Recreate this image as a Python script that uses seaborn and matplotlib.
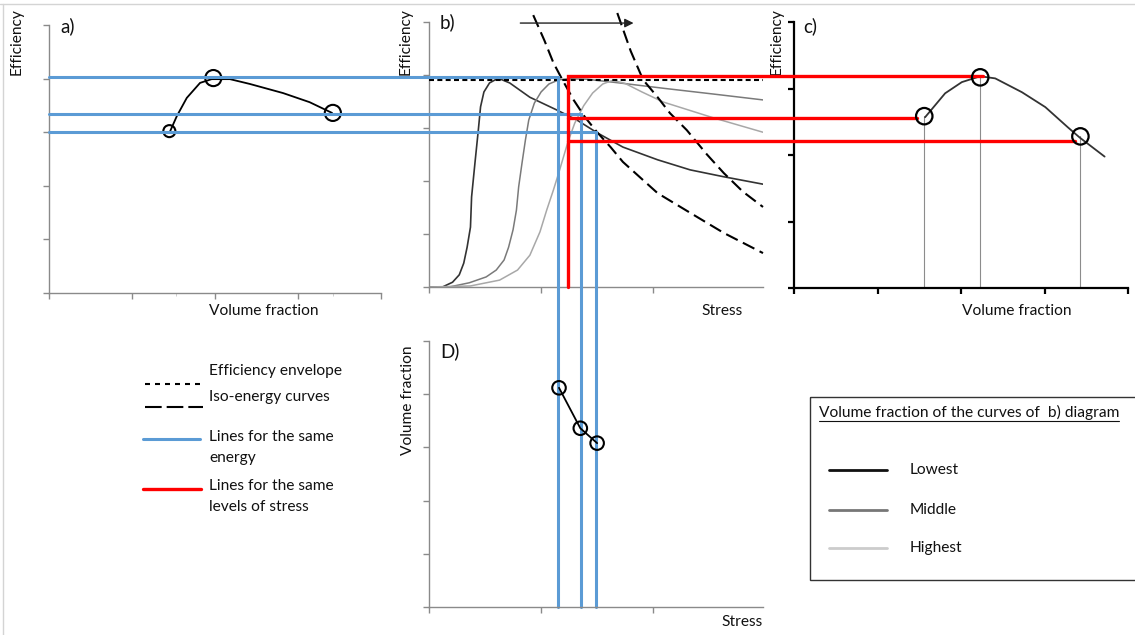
import matplotlib
matplotlib.use("Agg")
import matplotlib.pyplot as plt
import seaborn as sns
from matplotlib.patches import Rectangle

# ---- panel a) efficiency vs volume fraction ----
a_vf = [1.46, 1.54, 1.66, 1.82, 1.96, 2.18, 2.42, 2.82, 3.14, 3.41]
a_eff = [3.02, 3.30, 3.64, 3.92, 3.99, 3.99, 3.90, 3.73, 3.56, 3.36]
a_pts_vf = [1.45, 1.98, 3.42]
a_pts_eff = [3.02, 4.01, 3.36]
a_marks = [1.53, 3.42]

# ---- panel b) efficiency vs stress for three volume fractions ----
low_s = [0, 0.12, 0.21, 0.27, 0.31, 0.34, 0.37, 0.38, 0.41, 0.44, 0.46, 0.49, 0.54, 0.60, 0.64,
         0.72, 0.90, 1.14, 1.32, 1.50, 1.73, 2.04, 2.33, 2.63, 2.98]
low_e = [0, 0.00, 0.09, 0.23, 0.45, 0.75, 1.13, 1.70, 2.34, 2.96, 3.40, 3.68, 3.85, 3.92, 3.92,
         3.85, 3.58, 3.34, 3.15, 2.91, 2.64, 2.40, 2.21, 2.08, 1.94]
mid_s = [0, 0.18, 0.36, 0.51, 0.60, 0.67, 0.71, 0.75, 0.78, 0.80, 0.83, 0.86, 0.89, 0.94, 1.00,
         1.07, 1.16, 1.25, 1.41, 1.70, 2.09, 2.54, 2.98]
mid_e = [0, 0.00, 0.08, 0.19, 0.32, 0.51, 0.75, 1.08, 1.45, 1.89, 2.34, 2.77, 3.15, 3.47, 3.68,
         3.83, 3.91, 3.93, 3.92, 3.85, 3.75, 3.64, 3.53]
high_s = [0, 0.37, 0.63, 0.79, 0.90, 0.99, 1.05, 1.11, 1.16, 1.24, 1.30, 1.38, 1.46, 1.55, 1.64,
          1.75, 1.90, 2.09, 2.54, 2.98]
high_e = [0, 0.02, 0.13, 0.32, 0.60, 1.04, 1.45, 1.83, 2.17, 2.74, 3.09, 3.42, 3.66, 3.83, 3.90,
          3.84, 3.68, 3.49, 3.19, 2.92]
envelope_e = 3.91
iso1_s = [0.93, 1.03, 1.11, 1.19, 1.29, 1.39, 1.50, 1.62, 1.73, 2.04, 2.33, 2.63, 2.98]
iso1_e = [5.13, 4.65, 4.23, 3.91, 3.53, 3.21, 2.92, 2.64, 2.36, 1.77, 1.40, 1.02, 0.64]
iso2_s = [1.68, 1.80, 1.91, 2.04, 2.15, 2.30, 2.48, 2.63, 2.80, 2.98]
iso2_e = [5.17, 4.45, 3.91, 3.58, 3.28, 2.96, 2.50, 2.15, 1.80, 1.51]
arrow_s = [0.79, 1.85]
arrow_e = 4.98

# same-energy (blue) and same-stress (red) construction lines
blue_s = [1.15, 1.36, 1.49]
blue_e = [3.97, 3.26, 2.92]
red_s = 1.24
red_e = [3.98, 3.19, 2.75]
red_end_vf = [2.26, 1.47, 3.37]

# ---- panel c) efficiency vs volume fraction at one stress ----
c_vf = [1.57, 1.81, 2.01, 2.23, 2.41, 2.73, 3.01, 3.28, 3.42, 3.72]
c_eff = [3.21, 3.66, 3.87, 3.98, 3.94, 3.68, 3.40, 3.02, 2.83, 2.47]
c_pts_vf = [1.56, 2.23, 3.43]
c_pts_eff = [3.23, 3.96, 2.85]

# ---- panel D) volume fraction vs stress ----
d_s = [1.16, 1.35, 1.50]
d_vf = [4.12, 3.36, 3.08]

BLUE = "#5b9bd5"
RED = "#ff0000"
AXGREY = "#8a8a8a"
curve_colors = {"Lowest": "#333333", "Middle": "#7a7a7a", "Highest": "#a8a8a8"}

sns.set_style("white")
plt.rcParams["font.family"] = ["Lato", "DejaVu Sans"]

W, H = 1135, 635
fig = plt.figure(figsize=(W / 100, H / 100), dpi=100)
fig.patch.set_facecolor("white")


def px_box(l, t, r, b):
    return [l / W, 1 - b / H, (r - l) / W, (b - t) / H]


def conv(src, dst, x, y):
    # map a data point of one panel into the data space of another
    return dst.transData.inverted().transform(src.transData.transform((x, y)))


def style_axes(ax, xmax, xticks, yticks, color=AXGREY, lw=1.0):
    ax.set_facecolor("none")
    ax.set_xlim(0, xmax)
    ax.set_ylim(0, 5)
    ax.set_xticks(xticks)
    ax.set_yticks(yticks)
    sns.despine(ax=ax)
    for side in ("left", "bottom"):
        ax.spines[side].set_color(color)
        ax.spines[side].set_linewidth(lw)
    ax.tick_params(bottom=True, left=True, direction="out", length=4, width=lw, color=color,
                   labelbottom=False, labelleft=False)
    ax.grid(False)


canvas = fig.add_axes([0, 0, 1, 1])
canvas.set_xlim(0, W)
canvas.set_ylim(H, 0)
canvas.axis("off")

ax_a = fig.add_axes(px_box(49, 25, 381, 293))
ax_b = fig.add_axes(px_box(429, 22, 763, 287))
ax_d = fig.add_axes(px_box(429, 341, 763, 607))
ax_c = fig.add_axes(px_box(794, 22, 1128, 288))

style_axes(ax_a, 4, [0, 1, 2, 3, 4], [0, 1, 2, 3, 4, 5])
style_axes(ax_b, 2.98, [0, 1, 2], [0, 1, 2, 3, 4, 5])
style_axes(ax_d, 2.98, [0, 1, 2], [0, 1, 2, 3, 4, 5])
style_axes(ax_c, 4, [0, 1, 2, 3, 4], [0, 1.25, 2.5, 3.75, 5], color="black", lw=1.6)
ax_a.set_xticks(a_marks, minor=True)
ax_a.tick_params(which="minor", bottom=True, direction="out", length=2.5, color="#c8c8c8")

# a)
sns.lineplot(x=a_vf, y=a_eff, ax=ax_a, color="black", lw=1.3, sort=False, estimator=None)
sns.scatterplot(x=a_pts_vf, y=a_pts_eff, ax=ax_a, s=[75, 135, 135], color="black",
                facecolor="none", edgecolor="black", linewidth=1.5, zorder=5, clip_on=False)

# b) curves
sns.lineplot(x=low_s, y=low_e, ax=ax_b, color=curve_colors["Lowest"], lw=1.2, sort=False, estimator=None)
sns.lineplot(x=mid_s, y=mid_e, ax=ax_b, color=curve_colors["Middle"], lw=1.1, sort=False, estimator=None)
sns.lineplot(x=high_s, y=high_e, ax=ax_b, color=curve_colors["Highest"], lw=1.1, sort=False, estimator=None)
ax_b.plot([0, 2.98], [envelope_e, envelope_e], color="black", lw=1.5, ls=(0, (2.4, 1.6)), zorder=3)
for s, e in ((iso1_s, iso1_e), (iso2_s, iso2_e)):
    ax_b.plot(s, e, color="black", lw=1.5, ls=(0, (6.2, 2.8)), clip_on=False, zorder=3)
ax_b.annotate("", xy=(arrow_s[1], arrow_e), xytext=(arrow_s[0], arrow_e),
              arrowprops=dict(arrowstyle="-|>", color="#222222", lw=1.0, mutation_scale=13),
              annotation_clip=False)

# blue lines: from a) y-axis across to b), then down to D) x-axis
x_start = conv(ax_a, ax_b, 0, 0)[0]
y_bottom = conv(ax_d, ax_b, 0, 0)[1]
for s, e in zip(blue_s, blue_e):
    ax_b.plot([x_start, s, s], [e, e, y_bottom], color=BLUE, lw=2.2, clip_on=False,
              zorder=6, solid_joinstyle="miter")

# D)
sns.lineplot(x=d_s, y=d_vf, ax=ax_d, color="black", lw=1.3, sort=False, estimator=None)
sns.scatterplot(x=d_s, y=d_vf, ax=ax_d, s=95, color="black", facecolor="none",
                edgecolor="black", linewidth=1.5, zorder=5, clip_on=False)

# red lines: same stress in b), carried across to c)
rx, r0 = conv(ax_b, ax_c, red_s, 0)
for i, (e, vf_end) in enumerate(zip(red_e, red_end_vf)):
    ye = conv(ax_b, ax_c, 0, e)[1]
    xs = [rx, vf_end]
    ys = [ye, ye]
    if i == 0:
        xs = [rx] + xs
        ys = [r0] + ys
    ax_c.plot(xs, ys, color=RED, lw=2.4, clip_on=False, zorder=4, solid_joinstyle="miter")

# c)
for vf, e in zip(c_pts_vf, c_pts_eff):
    ax_c.plot([vf, vf], [0, e], color="#8c8c8c", lw=0.8, zorder=2)
sns.lineplot(x=c_vf, y=c_eff, ax=ax_c, color="#333333", lw=1.3, sort=False, estimator=None)
sns.scatterplot(x=c_pts_vf, y=c_pts_eff, ax=ax_c, s=140, color="black", facecolor="none",
                edgecolor="black", linewidth=1.6, zorder=5, clip_on=False)

# ---- texts ----
fs = 11.2
lab = dict(fontsize=fs, color="#111111")
canvas.text(17, 42, "Efficiency", rotation=90, ha="center", va="center", **lab)
canvas.text(406, 42, "Efficiency", rotation=90, ha="center", va="center", **lab)
canvas.text(777, 42, "Efficiency", rotation=90, ha="center", va="center", **lab)
canvas.text(408, 400, "Volume fraction", rotation=90, ha="center", va="center", **lab)
canvas.text(264, 311, "Volume fraction", ha="center", va="center", **lab)
canvas.text(1017, 311, "Volume fraction", ha="center", va="center", **lab)
canvas.text(722, 311, "Stress", ha="center", va="center", **lab)
canvas.text(742, 622, "Stress", ha="center", va="center", **lab)
for x, y, t in ((60, 26, "a)"), (440, 22, "b)"), (803, 26, "c)"), (440, 351, "D)")):
    canvas.text(x, y, t, ha="left", va="center", fontsize=13.5, color="#111111")

# left legend
canvas.plot([145, 203], [384, 384], color="black", lw=1.5, ls=(0, (2.4, 2.4)))
canvas.plot([145, 203], [407, 407], color="black", lw=1.5, ls=(0, (8, 2.4)))
canvas.plot([143, 200], [439, 439], color=BLUE, lw=2.2)
canvas.plot([143, 201], [489, 489], color=RED, lw=2.4)
for y, t in ((371, "Efficiency envelope"), (397, "Iso-energy curves"),
             (437, "Lines for the same"), (458, "energy"),
             (486, "Lines for the same"), (507, "levels of stress")):
    canvas.text(209, y, t, ha="left", va="center", **lab)

# right legend box
canvas.add_patch(Rectangle((810, 397), 340, 183, fill=False, edgecolor="#333333", lw=1.0))
title = canvas.text(819, 412, "Volume fraction of the curves of  b) diagram",
                    ha="left", va="center", **lab)
for y, (name, col) in zip((470, 510, 548), [("Lowest", "#111111"), ("Middle", "#777777"),
                                             ("Highest", "#cccccc")]):
    canvas.plot([829, 887], [y, y], color=col, lw=2.0)
    canvas.text(910, y, name, ha="left", va="center", **lab)

# thin page border (top and left)
canvas.plot([0, W], [4, 4], color="#d4d4d4", lw=1.0)
canvas.plot([3, 3], [4, H], color="#d4d4d4", lw=1.0)

fig.canvas.draw()
bb = title.get_window_extent()
canvas.plot([bb.x0, bb.x1], [H - bb.y0 + 1, H - bb.y0 + 1], color="#111111", lw=0.8)

fig.savefig("out.png", dpi=100)
